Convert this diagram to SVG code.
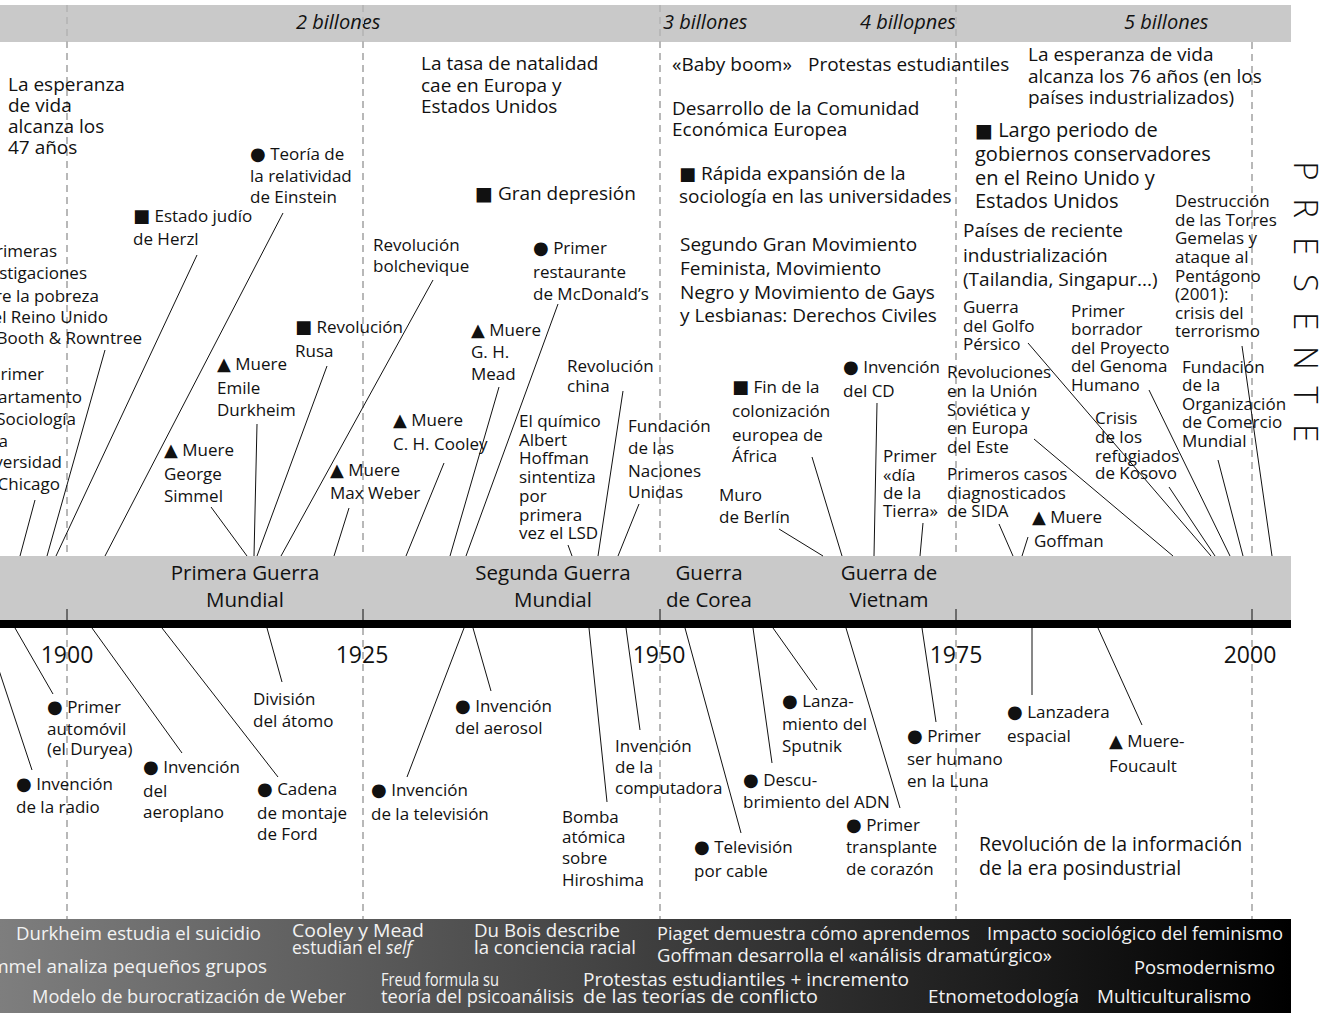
<svg xmlns="http://www.w3.org/2000/svg" width="1327" height="1013" viewBox="0 0 1327 1013">
<defs>
<linearGradient id="footGrad" x1="0" y1="0" x2="1291" y2="0" gradientUnits="userSpaceOnUse">
<stop offset="0" stop-color="#7e7e7e"/>
<stop offset="1" stop-color="#000"/>
</linearGradient>
<style>
.s{font-family:"Open Sans","DejaVu Sans",sans-serif;font-size:17px;fill:#111}
.m{font-size:19px}
.l{font-size:20px}
.w{font-size:20.5px;text-anchor:middle}
.y{font-size:23px;text-anchor:middle}
.p{font-style:italic;font-size:20px}
.e{text-anchor:end}
.f{font-family:"Open Sans","DejaVu Sans",sans-serif;font-size:19px;fill:#f2f2f2}
.b{font-family:"DejaVu Sans",sans-serif;font-size:18px}
.bl{font-family:"DejaVu Sans",sans-serif;font-size:19px}
.pr{font-family:"Open Sans","DejaVu Sans",sans-serif;font-size:33px;font-weight:300;fill:#111;text-anchor:middle}
.ln{stroke:#111;stroke-width:1;fill:none}
.dash{stroke:#b8b8b8;stroke-width:2;stroke-dasharray:7 5;fill:none}
.band{fill:#c9c9c9}
</style>
</defs>
<rect width="1327" height="1013" fill="#fff"/>

<!-- population band -->
<g id="population">
<rect class="band" x="0" y="5" width="1291" height="37"/>
<text class="s p" x="296" y="29">2 billones</text>
<text class="s p" x="663" y="29">3 billones</text>
<text class="s p" x="860" y="29">4 billopnes</text>
<text class="s p" x="1124" y="29">5 billones</text>
</g>

<!-- wars band and time axis -->
<g id="axis">
<rect class="band" x="0" y="556" width="1291" height="64"/>
<rect x="0" y="620" width="1291" height="8" fill="#000"/>
<path class="dash" d="M67 5V556M363 5V556M660 5V556M956 5V556M1252 42V556M67 628V919M363 628V919M660 628V919M956 628V919M1252 628V919"/>
<path class="ln" d="M67 609V620M363 609V620M660 609V620M956 609V620M1252 609V620"/>
<text class="s y" x="67" y="663">1900</text>
<text class="s y" x="362" y="663">1925</text>
<text class="s y" x="659" y="663">1950</text>
<text class="s y" x="956" y="663">1975</text>
<text class="s y" x="1250" y="663">2000</text>
</g>

<g id="war1"><text class="s w" x="245" y="580">Primera Guerra<tspan x="245" y="607">Mundial</tspan></text></g>
<g id="war2"><text class="s w" x="553" y="580">Segunda Guerra<tspan x="553" y="607">Mundial</tspan></text></g>
<g id="war-korea"><text class="s w" x="709" y="580">Guerra<tspan x="709" y="607">de Corea</tspan></text></g>
<g id="war-vietnam"><text class="s w" x="889" y="580">Guerra de<tspan x="889" y="607">Vietnam</tspan></text></g>

<!-- connectors -->
<g id="connectors" class="ln">
<path d="M35 500L20 556M105 350L47 556M197 255L56 556M283 213L105 556M211 507L247 556M257 424L254 556M327 366L257 556M433 280L281 556M349 508L334 556M444 463L406 556M499 387L450 556M558 304L466 556M568 545L572 556M623 391L598 556M639 504L618 556M779 529L823 556M812 457L842 556M877 403L874 556M923 523L920 556M999 524L1013 556M1028 537L1022 556M1034 439L1173 556M1028 343L1211 556M1169 487L1215 556M1149 390L1230 556M1218 460L1243 556M1242 346L1272 556"/>
<path d="M-15 628L32 770M15 628L53 694M92 628L182 753M162 628L278 777M267 628L282 682M464 628L407 777M473 628L491 691M589 628L607 802M626 628L640 730M685 628L741 833M753 628L772 763M773 628L817 690M846 628L900 808M922 628L936 722M1032 628L1032 695M1098 628L1142 725"/>
</g>

<!-- upper events -->
<g id="life47"><text class="s m" x="8" y="91">La esperanza<tspan x="8" y="112">de vida</tspan><tspan x="8" y="133">alcanza los</tspan><tspan x="8" y="154">47 años</tspan></text></g>
<g id="einstein"><text class="s" x="250" y="160"><tspan class="b">●</tspan> Teoría de<tspan x="250" y="182">la relatividad</tspan><tspan x="250" y="203">de Einstein</tspan></text></g>
<g id="herzl"><text class="s" x="133" y="222"><tspan class="b">■</tspan> Estado judío<tspan x="133" y="245">de Herzl</tspan></text></g>
<g id="booth">
<text class="s e" x="57" y="257">Primeras</text>
<text class="s e" x="87" y="279">investigaciones</text>
<text class="s e" x="99" y="302">sobre la pobreza</text>
<text class="s e" x="108" y="323">en el Reino Unido</text>
<text class="s e" x="142" y="344">de Booth &amp; Rowntree</text>
</g>
<g id="chicago">
<text class="s e" x="44" y="380">Primer</text>
<text class="s e" x="82" y="403">departamento</text>
<text class="s e" x="76" y="425">de Sociología</text>
<text class="s e" x="8" y="447">en la</text>
<text class="s e" x="62" y="468">Universidad</text>
<text class="s e" x="60" y="490">de Chicago</text>
</g>
<g id="bolchevique"><text class="s" x="373" y="251">Revolución<tspan x="373" y="272">bolchevique</tspan></text></g>
<g id="rusa"><text class="s" x="295" y="333"><tspan class="b">■</tspan> Revolución<tspan x="295" y="357">Rusa</tspan></text></g>
<g id="durkheim"><text class="s" x="217" y="370"><tspan class="b">▲</tspan> Muere<tspan x="217" y="394">Emile</tspan><tspan x="217" y="416">Durkheim</tspan></text></g>
<g id="simmel"><text class="s" x="164" y="456"><tspan class="b">▲</tspan> Muere<tspan x="164" y="480">George</tspan><tspan x="164" y="502">Simmel</tspan></text></g>
<g id="weber"><text class="s" x="330" y="476"><tspan class="b">▲</tspan> Muere<tspan x="330" y="499">Max Weber</tspan></text></g>
<g id="cooley"><text class="s" x="393" y="426"><tspan class="b">▲</tspan> Muere<tspan x="393" y="450">C. H. Cooley</tspan></text></g>
<g id="mead"><text class="s" x="471" y="336"><tspan class="b">▲</tspan> Muere<tspan x="471" y="358">G. H.</tspan><tspan x="471" y="380">Mead</tspan></text></g>
<g id="mcdonalds"><text class="s" x="533" y="254"><tspan class="b">●</tspan> Primer<tspan x="533" y="278">restaurante</tspan><tspan x="533" y="300">de McDonald’s</tspan></text></g>
<g id="depresion"><text class="s m" x="475" y="200"><tspan class="bl">■</tspan> Gran depresión</text></g>
<g id="natalidad"><text class="s m" x="421" y="70">La tasa de natalidad<tspan x="421" y="92">cae en Europa y</tspan><tspan x="421" y="113">Estados Unidos</tspan></text></g>
<g id="china"><text class="s" x="567" y="372">Revolución<tspan x="567" y="392">china</tspan></text></g>
<g id="lsd"><text class="s" x="519" y="427">El químico<tspan x="519" y="446">Albert</tspan><tspan x="519" y="464">Hoffman</tspan><tspan x="519" y="483">sintentiza</tspan><tspan x="519" y="502">por</tspan><tspan x="519" y="521">primera</tspan><tspan x="519" y="539">vez el LSD</tspan></text></g>
<g id="onu"><text class="s" x="628" y="432">Fundación<tspan x="628" y="454">de las</tspan><tspan x="628" y="477">Naciones</tspan><tspan x="628" y="498">Unidas</tspan></text></g>
<g id="africa"><text class="s" x="732" y="393"><tspan class="b">■</tspan> Fin de la<tspan x="732" y="417">colonización</tspan><tspan x="732" y="441">europea de</tspan><tspan x="732" y="462">África</tspan></text></g>
<g id="cd"><text class="s" x="843" y="373"><tspan class="b">●</tspan> Invención<tspan x="843" y="397">del CD</tspan></text></g>
<g id="berlin"><text class="s" x="719" y="501">Muro<tspan x="719" y="523">de Berlín</tspan></text></g>
<g id="tierra"><text class="s" x="883" y="462">Primer<tspan x="883" y="481">«día</tspan><tspan x="883" y="499">de la</tspan><tspan x="883" y="517">Tierra»</tspan></text></g>
<g id="urss"><text class="s" x="947" y="378">Revoluciones<tspan x="947" y="397">en la Unión</tspan><tspan x="947" y="416">Soviética y</tspan><tspan x="947" y="434">en Europa</tspan><tspan x="947" y="453">del Este</tspan></text></g>
<g id="sida"><text class="s" x="947" y="480">Primeros casos<tspan x="947" y="499">diagnosticados</tspan><tspan x="947" y="517">de SIDA</tspan></text></g>
<g id="goffman"><text class="s" x="1032" y="523"><tspan class="b">▲</tspan> Muere<tspan x="1034" y="547">Goffman</tspan></text></g>
<g id="golfo"><text class="s" x="963" y="313">Guerra<tspan x="963" y="332">del Golfo</tspan><tspan x="963" y="350">Pérsico</tspan></text></g>
<g id="genoma"><text class="s" x="1071" y="317">Primer<tspan x="1071" y="335">borrador</tspan><tspan x="1071" y="354">del Proyecto</tspan><tspan x="1071" y="372">del Genoma</tspan><tspan x="1071" y="391">Humano</tspan></text></g>
<g id="torres"><text class="s" x="1175" y="207">Destrucción<tspan x="1175" y="226">de las Torres</tspan><tspan x="1175" y="244">Gemelas y</tspan><tspan x="1175" y="263">ataque al</tspan><tspan x="1175" y="282">Pentágono</tspan><tspan x="1175" y="300">(2001):</tspan><tspan x="1175" y="319">crisis del</tspan><tspan x="1175" y="337">terrorismo</tspan></text></g>
<g id="omc"><text class="s" x="1182" y="373">Fundación<tspan x="1182" y="391">de la</tspan><tspan x="1182" y="410">Organización</tspan><tspan x="1182" y="428">de Comercio</tspan><tspan x="1182" y="447">Mundial</tspan></text></g>
<g id="kosovo"><text class="s" x="1095" y="424">Crisis<tspan x="1095" y="443">de los</tspan><tspan x="1095" y="462">refugiados</tspan><tspan x="1095" y="479">de Kosovo</tspan></text></g>
<g id="nics"><text class="s m" x="963" y="237">Países de reciente<tspan x="963" y="262">industrialización</tspan><tspan x="963" y="286">(Tailandia, Singapur...)</tspan></text></g>
<g id="conservadores"><text class="s l" x="975" y="137"><tspan class="bl">■</tspan> Largo periodo de<tspan x="975" y="161">gobiernos conservadores</tspan><tspan x="975" y="185">en el Reino Unido y</tspan><tspan x="975" y="208">Estados Unidos</tspan></text></g>
<g id="life76"><text class="s m" x="1028" y="61">La esperanza de vida<tspan x="1028" y="83">alcanza los 76 años (en los</tspan><tspan x="1028" y="104">países industrializados)</tspan></text></g>
<g id="babyboom"><text class="s m" x="672" y="71">«Baby boom»</text></g>
<g id="protestas"><text class="s m" x="808" y="71">Protestas estudiantiles</text></g>
<g id="cee"><text class="s m" x="672" y="115">Desarrollo de la Comunidad<tspan x="672" y="136">Económica Europea</tspan></text></g>
<g id="sociologia"><text class="s m" x="679" y="180"><tspan class="b">■</tspan> Rápida expansión de la<tspan x="679" y="203">sociología en las universidades</tspan></text></g>
<g id="derechos"><text class="s m" x="680" y="251">Segundo Gran Movimiento<tspan x="680" y="275">Feminista, Movimiento</tspan><tspan x="680" y="299">Negro y Movimiento de Gays</tspan><tspan x="680" y="322">y Lesbianas: Derechos Civiles</tspan></text></g>
<g id="presente"><text class="pr" transform="translate(1294 0) rotate(90)" x="171 208 246 283 321 358 395 433" y="0">PRESENTE</text></g>

<!-- lower events -->
<g id="radio"><text class="s" x="16" y="790"><tspan class="b">●</tspan> Invención<tspan x="16" y="813">de la radio</tspan></text></g>
<g id="automovil"><text class="s" x="47" y="713"><tspan class="b">●</tspan> Primer<tspan x="47" y="735">automóvil</tspan><tspan x="47" y="755">(el Duryea)</tspan></text></g>
<g id="aeroplano"><text class="s" x="143" y="773"><tspan class="b">●</tspan> Invención<tspan x="143" y="797">del</tspan><tspan x="143" y="818">aeroplano</tspan></text></g>
<g id="atomo"><text class="s" x="253" y="705">División<tspan x="253" y="727">del átomo</tspan></text></g>
<g id="ford"><text class="s" x="257" y="795"><tspan class="b">●</tspan> Cadena<tspan x="257" y="819">de montaje</tspan><tspan x="257" y="840">de Ford</tspan></text></g>
<g id="television"><text class="s" x="371" y="796"><tspan class="b">●</tspan> Invención<tspan x="371" y="820">de la televisión</tspan></text></g>
<g id="aerosol"><text class="s" x="455" y="712"><tspan class="b">●</tspan> Invención<tspan x="455" y="734">del aerosol</tspan></text></g>
<g id="hiroshima"><text class="s" x="562" y="823">Bomba<tspan x="562" y="843">atómica</tspan><tspan x="562" y="864">sobre</tspan><tspan x="562" y="886">Hiroshima</tspan></text></g>
<g id="computadora"><text class="s" x="615" y="752">Invención<tspan x="615" y="773">de la</tspan><tspan x="615" y="794">computadora</tspan></text></g>
<g id="cable"><text class="s" x="694" y="853"><tspan class="b">●</tspan> Televisión<tspan x="694" y="877">por cable</tspan></text></g>
<g id="adn"><text class="s" x="743" y="786"><tspan class="b">●</tspan> Descu-<tspan x="743" y="808">brimiento del ADN</tspan></text></g>
<g id="sputnik"><text class="s" x="782" y="707"><tspan class="b">●</tspan> Lanza-<tspan x="782" y="730">miento del</tspan><tspan x="782" y="752">Sputnik</tspan></text></g>
<g id="corazon"><text class="s" x="846" y="831"><tspan class="b">●</tspan> Primer<tspan x="846" y="853">transplante</tspan><tspan x="846" y="875">de corazón</tspan></text></g>
<g id="luna"><text class="s" x="907" y="742"><tspan class="b">●</tspan> Primer<tspan x="907" y="765">ser humano</tspan><tspan x="907" y="787">en la Luna</tspan></text></g>
<g id="lanzadera"><text class="s" x="1007" y="718"><tspan class="b">●</tspan> Lanzadera<tspan x="1007" y="742">espacial</tspan></text></g>
<g id="foucault"><text class="s" x="1109" y="747"><tspan class="b">▲</tspan> Muere-<tspan x="1109" y="772">Foucault</tspan></text></g>
<g id="informacion"><text class="s m" x="979" y="851" style="font-size:19.5px">Revolución de la información<tspan x="979" y="875">de la era posindustrial</tspan></text></g>

<!-- sociological theory strip -->
<g id="theory">
<rect x="0" y="919" width="1291" height="94" fill="url(#footGrad)"/>
<text class="f" x="16" y="940" textLength="245" lengthAdjust="spacingAndGlyphs">Durkheim estudia el suicidio</text>
<text class="f" x="-24" y="973" textLength="291" lengthAdjust="spacingAndGlyphs">Simmel analiza pequeños grupos</text>
<text class="f" x="32" y="1003" textLength="314" lengthAdjust="spacingAndGlyphs">Modelo de burocratización de Weber</text>
<text class="f" x="292" y="937" textLength="132" lengthAdjust="spacingAndGlyphs">Cooley y Mead</text>
<text class="f" x="292" y="954" textLength="120" lengthAdjust="spacingAndGlyphs">estudian el <tspan font-style="italic">self</tspan></text>
<text class="f" x="474" y="937" textLength="146" lengthAdjust="spacingAndGlyphs">Du Bois describe</text>
<text class="f" x="474" y="954" textLength="162" lengthAdjust="spacingAndGlyphs">la conciencia racial</text>
<text class="f" x="381" y="986" textLength="118" lengthAdjust="spacingAndGlyphs">Freud formula su</text>
<text class="f" x="381" y="1003" textLength="193" lengthAdjust="spacingAndGlyphs">teoría del psicoanálisis</text>
<text class="f" x="583" y="986" textLength="326" lengthAdjust="spacingAndGlyphs">Protestas estudiantiles + incremento</text>
<text class="f" x="583" y="1003" textLength="235" lengthAdjust="spacingAndGlyphs">de las teorías de conflicto</text>
<text class="f" x="657" y="940" textLength="313" lengthAdjust="spacingAndGlyphs">Piaget demuestra cómo aprendemos</text>
<text class="f" x="987" y="940" textLength="296" lengthAdjust="spacingAndGlyphs">Impacto sociológico del feminismo</text>
<text class="f" x="657" y="962" textLength="395" lengthAdjust="spacingAndGlyphs">Goffman desarrolla el «análisis dramatúrgico»</text>
<text class="f" x="1134" y="974" textLength="141" lengthAdjust="spacingAndGlyphs">Posmodernismo</text>
<text class="f" x="928" y="1003" textLength="151" lengthAdjust="spacingAndGlyphs">Etnometodología</text>
<text class="f" x="1097" y="1003" textLength="154" lengthAdjust="spacingAndGlyphs">Multiculturalismo</text>
</g>
</svg>
